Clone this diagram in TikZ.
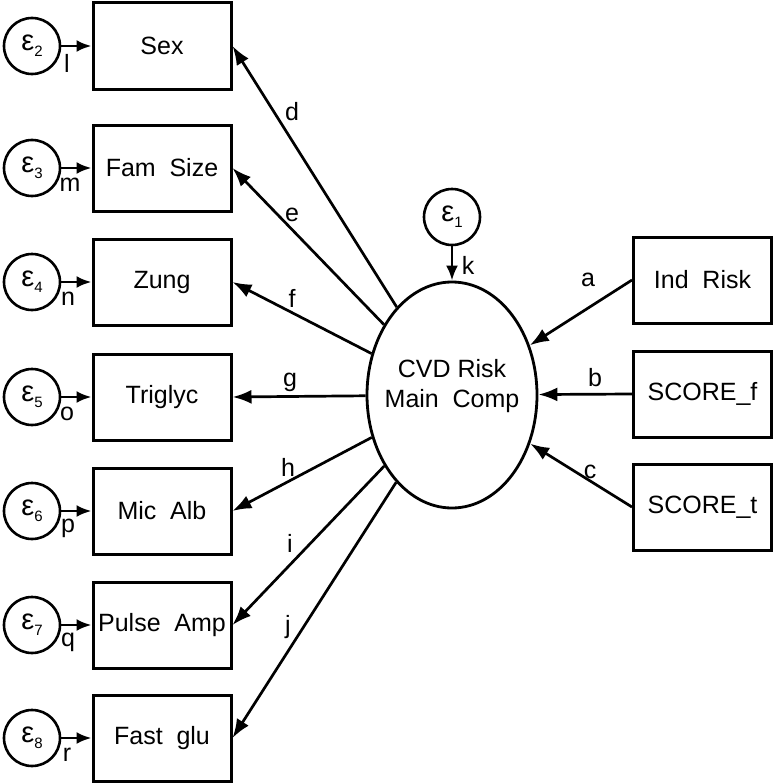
\documentclass[tikz,border=0pt]{standalone}
\usepackage{fontspec}
\setmainfont{Liberation Sans}
\usetikzlibrary{arrows.meta,shapes.geometric}
\newcommand{\epsub}[1]{ε\raisebox{-6pt}{\fontsize{15}{15}\selectfont #1}}
\newcommand{\wsp}{\hspace{0.55em}}
\begin{document}
\begin{tikzpicture}[x=1pt,y=-1pt,
 obs/.style={draw,line width=3pt,minimum width=138pt,minimum height=86pt,inner sep=0pt,font=\fontsize{25}{28}\selectfont},
 err/.style={draw,circle,line width=2.6pt,minimum size=56pt,inner sep=0pt,font=\fontsize{29}{30}\selectfont},
 lat/.style={draw,ellipse,line width=2.8pt,minimum width=170pt,minimum height=226pt,inner sep=0pt},
 pth/.style={line width=2.7pt,-{Latex[length=19pt,width=14pt]}},
 shortarr/.style={line width=2.7pt,-{Latex[length=15pt,width=12pt]}},
 lab/.style={font=\fontsize{25}{28}\selectfont,inner sep=0pt}
]
\useasboundingbox (0,0) rectangle (774,784);

% latent
\node[lat] (cvd) at (452,395) {};
\node[lab,align=center,font=\fontsize{25}{30}\selectfont] (cvdtext) at (452,386) {CVD Risk\\Main\wsp Comp};
\node[err] (e1) at (452,217) {\epsub{1}};

% right indicators
\node[obs] (ind) at (702.5,280) {Ind\wsp Risk};
\node[obs] (scf) at (702.5,394) {SCORE\_f};
\node[obs] (sct) at (702.5,507) {SCORE\_t};

% left indicators
\node[obs] (sex) at (162,46) {Sex};
\node[obs] (fam) at (162,168) {Fam\wsp Size};
\node[obs] (zung) at (162,282) {Zung};
\node[obs] (tri) at (162,397) {Triglyc};
\node[obs] (mic) at (162,511) {Mic\wsp Alb};
\node[obs] (pul) at (162,625) {Pulse\wsp Amp};
\node[obs] (glu) at (162,738) {Fast\wsp glu};

% errors
\node[err] (e2) at (32,46) {\epsub{2}};
\node[err] (e3) at (32,168) {\epsub{3}};
\node[err] (e4) at (32,282) {\epsub{4}};
\node[err] (e5) at (32,397) {\epsub{5}};
\node[err] (e6) at (32,511) {\epsub{6}};
\node[err] (e7) at (32,625) {\epsub{7}};
\node[err] (e8) at (32,738) {\epsub{8}};

% error arrows
\draw[shortarr] (e1) -- (cvd);
\draw[shortarr] (e2) -- (sex);
\draw[shortarr] (e3) -- (fam);
\draw[shortarr] (e4) -- (zung);
\draw[shortarr] (e5) -- (tri);
\draw[shortarr] (e6) -- (mic);
\draw[shortarr] (e7) -- (pul);
\draw[shortarr] (e8) -- (glu);

% causal arrows
\draw[pth] (ind.west) -- (cvd);
\draw[pth] (scf.west) -- (cvd);
\draw[pth] (sct.west) -- (cvd);

% loadings
\draw[pth] (cvd) -- (sex.east);
\draw[pth] (cvd) -- (fam.east);
\draw[pth] (cvd) -- (zung.east);
\draw[pth] (cvd) -- (tri.east);
\draw[pth] (cvd) -- (mic.east);
\draw[pth] (cvd) -- (pul.east);
\draw[pth] (cvd) -- (glu.east);

% labels
\node[lab] (la) at (588,280) {a};
\node[lab] (lb) at (595,378) {b};
\node[lab] (lc) at (590,472) {c};
\node[lab] (ld) at (292,112) {d};
\node[lab] (le) at (292,215) {e};
\node[lab] (lf) at (292,298) {f};
\node[lab] (lg) at (290,382) {g};
\node[lab] (lh) at (288,467) {h};
\node[lab] (li) at (290,543) {i};
\node[lab] (lj) at (288,627) {j};
\node[lab] (lk) at (468,265) {k};
\node[lab] (ll) at (67,63) {l};
\node[lab] (lm) at (70,185) {m};
\node[lab] (ln) at (68,299) {n};
\node[lab] (lo) at (67,414) {o};
\node[lab] (lp) at (68,528) {p};
\node[lab] (lq) at (68,642) {q};
\node[lab] (lr) at (67,755) {r};
\end{tikzpicture}
\end{document}
